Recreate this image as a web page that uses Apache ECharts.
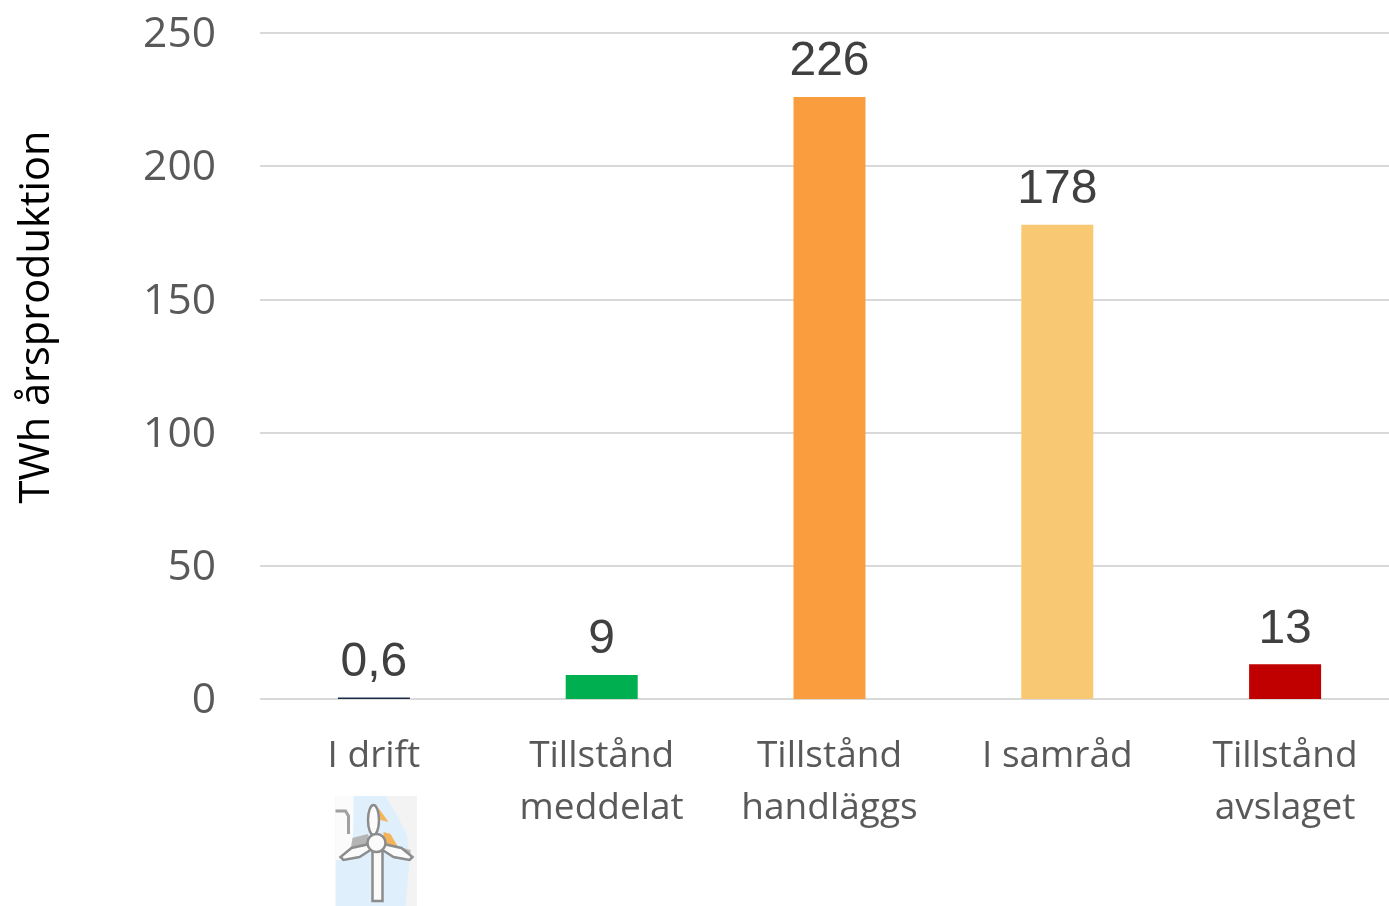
<!DOCTYPE html>
<html><head><meta charset="utf-8">
<style>html,body{margin:0;padding:0;background:#fff;overflow:hidden}#c{width:1400px;height:906px}</style>
<script src="https://cdn.jsdelivr.net/npm/echarts@6/dist/echarts.min.js"></script>
</head><body><div id="c"></div>
<script>
const categories = ["I drift","Tillstånd\nmeddelat","Tillstånd\nhandläggs","I samråd","Tillstånd\navslaget"];
const values = [0.6,9,226,178,13];
const valueLabels = ["0,6","9","226","178","13"];
const barColors = ["#1f2d4d","#00b050","#f99d3e","#f9c872","#c00000"];
const axisTitle = "TWh årsproduktion";
const chart = echarts.init(document.getElementById('c'),null,{renderer:'canvas'});
const tickFont = '"Open Sans"';
const ix=333, iy=796;
const bladeStyle = {fill:'#fbfbfb',stroke:'#8c8c8c',lineWidth:2.5};
chart.setOption({
  animation:false,
  backgroundColor:'#fff',
  grid:{left:260,top:33,width:1139,height:666,containLabel:false},
  xAxis:{type:'category',data:categories,
    axisLine:{show:true,lineStyle:{color:'#d9d9d9',width:2,cap:'butt'}},axisTick:{show:false},
    axisLabel:{color:'#595959',fontFamily:tickFont,fontSize:37,lineHeight:52,margin:31,interval:0,verticalAlign:'top'}},
  yAxis:{type:'value',min:0,max:250,interval:50,
    name:axisTitle,nameLocation:'middle',nameGap:202,nameRotate:90,
    nameTextStyle:{color:'#000',fontFamily:tickFont,fontSize:41.5,padding:[0,0,0,98]},
    axisLine:{show:false},axisTick:{show:false},
    splitLine:{lineStyle:{color:'#d9d9d9',width:2}},
    axisLabel:{margin:44,formatter:'{t|{value}}',
      rich:{t:{color:'#595959',fontFamily:tickFont,fontSize:42.5,padding:[4,0,0,0]}}}},
  series:[{type:'bar',barWidth:72,
    data:values.map((v,i)=>({value:v,itemStyle:{color:barColors[i]}})),
    label:{show:true,position:'top',distance:11,color:'#404040',fontFamily:'"Liberation Sans"',fontSize:48,
      formatter:p=>valueLabels[p.dataIndex]}}],
  graphic:[{type:'group',left:ix,top:iy,silent:true,children:[
    {type:'rect',shape:{x:0,y:0,width:81,height:110},style:{fill:'#dff0fc'}},
    {type:'polygon',shape:{points:[[0,0],[18,0],[18,30],[16,64],[0,64]]},style:{fill:'#fbfbfb'}},
    {type:'polygon',shape:{points:[[50,0],[81,0],[81,110],[70,110],[74,64],[72,40],[62,20]]},style:{fill:'#f3f3f3'}},
    {type:'polygon',shape:{points:[[17,42],[32,38],[38,50],[15,54]]},style:{fill:'#b5b5b5'}},
    {type:'polygon',shape:{points:[[60,50],[75,54],[75,60],[62,58]]},style:{fill:'#b5b5b5'}},
    {type:'polygon',shape:{points:[[43,12],[53,26],[45,24]]},style:{fill:'#f5b35a'}},
    {type:'polygon',shape:{points:[[48,36],[55,38],[62,50],[48,50]]},style:{fill:'#f5b35a'}},
    {type:'polyline',shape:{points:[[0,15],[10,15],[13,20],[13,38]]},style:{stroke:'#a0a0a0',lineWidth:3,fill:null}},
    {type:'rect',shape:{x:37,y:50,width:10,height:55},style:bladeStyle},
    {type:'ellipse',shape:{cx:38,cy:24,rx:5.5,ry:15},style:bladeStyle},
    {type:'polygon',shape:{points:[[34,48],[16,52],[5,61],[8,64],[24,61],[35,54]]},style:bladeStyle},
    {type:'polygon',shape:{points:[[48,48],[66,52],[77,61],[74,64],[58,61],[47,54]]},style:bladeStyle},
    {type:'circle',shape:{cx:41,cy:47,r:9},style:bladeStyle}
  ]}]
});
</script></body></html>
